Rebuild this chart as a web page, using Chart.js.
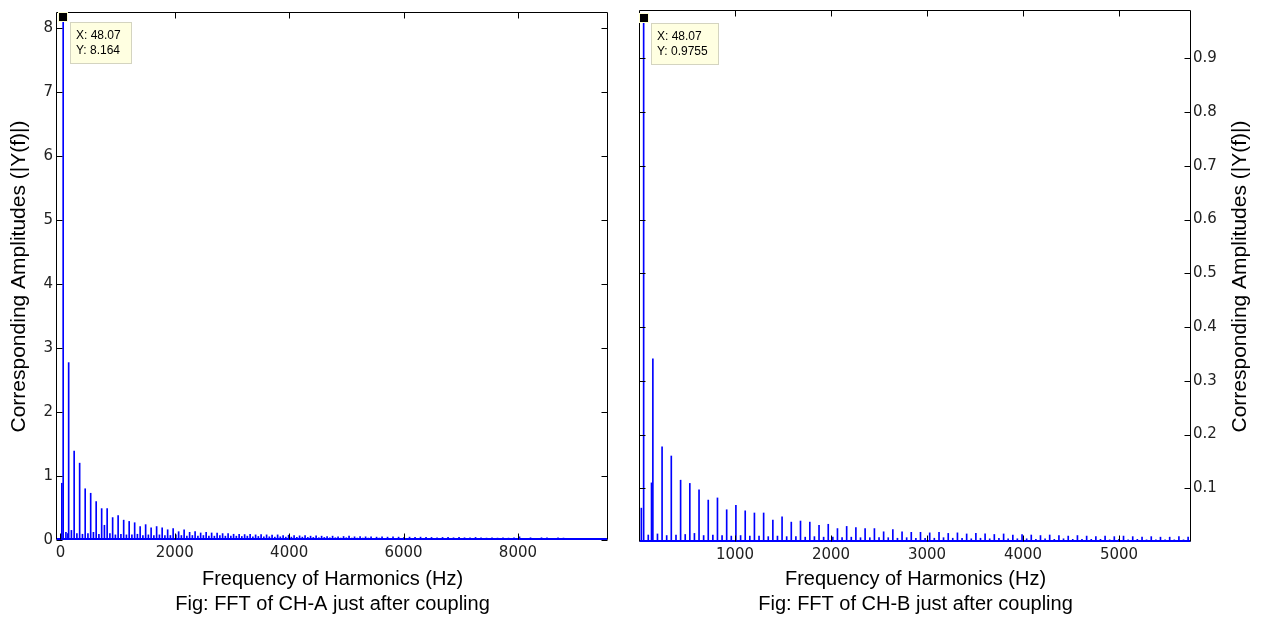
<!DOCTYPE html>
<html lang="en">
<head>
  <meta charset="UTF-8">
  <title>FFT of CH-A / CH-B just after coupling</title>
  <script src="https://cdn.jsdelivr.net/npm/chart.js"></script>
  <style>
    * {
      margin: 0;
      padding: 0;
      box-sizing: border-box;
    }

    body {
      background-color: #fff;
      width: 1261px;
      height: 618px;
      overflow: hidden;
      position: relative;
    }

    .panel {
      position: absolute;
      top: 0;
      height: 618px;
    }

    #panel-a {
      left: 0;
      width: 620px;
    }

    #panel-b {
      left: 620px;
      width: 641px;
    }
  </style>
</head>
<body>
  <div class="panel" id="panel-a"><canvas id="fft-a"></canvas></div>
  <div class="panel" id="panel-b"><canvas id="fft-b"></canvas></div>

  <script>
    // odd harmonics of the 48.07 Hz fundamental (Hz)
    const harmonicHz = [
      48, 144, 240, 336, 433, 529, 625, 721, 817, 913,
      1009, 1106, 1202, 1298, 1394, 1490, 1586, 1682, 1779, 1875,
      1971, 2067, 2163, 2259, 2355, 2452, 2548, 2644, 2740, 2836,
      2932, 3028, 3125, 3221, 3317, 3413, 3509, 3605, 3701, 3798,
      3894, 3990, 4086, 4182, 4278, 4374, 4471, 4567, 4663, 4759,
      4855, 4951, 5047, 5143, 5240, 5336, 5432, 5528, 5624, 5720,
      5816, 5913, 6009, 6105, 6201, 6297, 6393, 6489, 6586, 6682,
      6778, 6874, 6970, 7066, 7162, 7259, 7355, 7451, 7547, 7643,
      7739, 7835, 7932, 8028, 8124, 8220, 8316, 8412, 8508, 8605,
      8701, 8797
    ];

    // CH-A amplitudes at the odd harmonics
    const ampA = [
      8.164, 2.77, 1.39, 1.20, 0.80, 0.73, 0.60, 0.49, 0.49, 0.35,
      0.38, 0.31, 0.29, 0.27, 0.21, 0.24, 0.19, 0.21, 0.19, 0.16,
      0.18, 0.13, 0.16, 0.12, 0.13, 0.11, 0.12, 0.11, 0.11, 0.10,
      0.10, 0.09, 0.09, 0.085, 0.09, 0.08, 0.085, 0.08, 0.075, 0.08,
      0.07, 0.075, 0.07, 0.065, 0.07, 0.06, 0.065, 0.06, 0.055, 0.06,
      0.05, 0.055, 0.06, 0.05, 0.055, 0.05, 0.05, 0.045, 0.05, 0.045,
      0.05, 0.045, 0.04, 0.045, 0.04, 0.045, 0.04, 0.04, 0.035, 0.04,
      0.04, 0.035, 0.04, 0.035, 0.035, 0.04, 0.035, 0.03, 0.035, 0.03,
      0.035, 0.03, 0.035, 0.05, 0, 0.035, 0, 0.035, 0.035, 0,
      0.035, 0.03
    ];

    // CH-B amplitudes at the odd harmonics (up to 5750 Hz)
    const ampB = [
      0.9755, 0.341, 0.177, 0.16, 0.115, 0.109, 0.097, 0.078, 0.082, 0.06,
      0.068, 0.058, 0.054, 0.054, 0.041, 0.047, 0.037, 0.039, 0.037, 0.031,
      0.033, 0.025, 0.029, 0.027, 0.025, 0.025, 0.019, 0.023, 0.019, 0.018,
      0.018, 0.017, 0.018, 0.016, 0.017, 0.015, 0.016, 0.015, 0.014, 0.015,
      0.013, 0.014, 0.013, 0.012, 0.013, 0.012, 0.011, 0.012, 0.011, 0.010,
      0.011, 0.010, 0.011, 0.010, 0.009, 0.010, 0.009, 0.009, 0.010, 0.009
    ];

    // small even-harmonic components
    const evenHz = [
      96, 192, 288, 385, 481, 577, 673, 769, 865, 961,
      1058, 1154, 1250, 1346, 1442, 1538, 1634, 1731, 1827, 1923,
      2019, 2115, 2211, 2307, 2404, 2500, 2596, 2692, 2788, 2884,
      2980, 3076, 3172, 3268, 3365, 3461, 3557, 3653, 3749, 3845,
      3941, 4038, 4134, 4230, 4326, 4422, 4518, 4614, 4711, 4807,
      4903, 4999, 5095, 5191, 5287, 5384, 5480, 5576, 5672
    ];
    const evenAmpA = [
      0.12, 0.15, 0.10, 0.09, 0.10, 0.12, 0.09, 0.23, 0.10, 0.08,
      0.09, 0.08, 0.08, 0.09, 0.07, 0.08, 0.07, 0.08, 0.07, 0.07,
      0.08, 0.07, 0.06, 0.07, 0.06, 0.07, 0.06, 0.06, 0.07, 0.06,
      0.06, 0.06, 0.055, 0.06, 0.05, 0.055, 0.05, 0.05, 0.045, 0.05,
      0.045, 0.045, 0.04, 0.045, 0.04, 0.04, 0.035, 0.04, 0.035, 0.035,
      0.03, 0.035, 0.03, 0.03, 0.03, 0.03, 0.025, 0.03, 0.025
    ];
    const evenAmpB = [
      0.013, 0.015, 0.012, 0.013, 0.014, 0.016, 0.012, 0.013, 0.012, 0.011,
      0.012, 0.011, 0.011, 0.010, 0.011, 0.010, 0.010, 0.009, 0.010, 0.009,
      0.009, 0.008, 0.009, 0.008, 0.008, 0.008, 0.008, 0.007, 0.008, 0.007,
      0.007, 0.007, 0.008, 0.007, 0.007, 0.006, 0.007, 0.006, 0.007, 0.006,
      0.006, 0.006, 0.005, 0.006, 0.005, 0.006, 0.005, 0.005, 0.005, 0.005,
      0.004, 0.005, 0.004, 0.005, 0.004, 0.004, 0.004, 0.004, 0.004
    ];

    // side components next to the fundamental / 3rd harmonic
    const sideHz = [24, 130];
    const sideAmpA = [0.886, 0.10];
    const sideAmpB = [0.063, 0.11];

    // axis ticks
    const xTicksA = [0, 2000, 4000, 6000, 8000];
    const yTicksA = [0, 1, 2, 3, 4, 5, 6, 7, 8];
    const xTicksB = [1000, 2000, 3000, 4000, 5000];
    const yTicksB = [0.1, 0.2, 0.3, 0.4, 0.5, 0.6, 0.7, 0.8, 0.9];

    // data tips [X, Y]
    const tipA = [48.07, 8.164];
    const tipB = [48.07, 0.9755];

    const xTitle = 'Frequency of Harmonics (Hz)';
    const yTitle = 'Corresponding Amplitudes (|Y(f)|)';
    const captionA = 'Fig: FFT of CH-A just after coupling';
    const captionB = 'Fig: FFT of CH-B just after coupling';

    const FONT = '"Liberation Sans", Arial, sans-serif';
    const TICK_FONT = '"DejaVu Sans", Verdana, sans-serif';

    const toPoints = (hz, amp) => amp.map((a, i) => ({ x: hz[i], y: a }));

    const spike = (data) => ({
      data,
      backgroundColor: '#0000ff',
      borderWidth: 0,
      barThickness: 1,
      grouped: false,
    });

    // matlab style box, inward ticks on all four sides, data tip
    const matlabFrame = {
      id: 'matlabFrame',
      afterDatasetsDraw(chart, args, opts) {
        const { ctx, chartArea: a, scales: { x, y } } = chart;
        const L = a.left - 0.5, R = a.right - 0.5, T = a.top - 0.5, B = a.bottom - 0.5;
        ctx.save();

        // noise floor along the baseline
        ctx.strokeStyle = '#0000ff';
        ctx.lineWidth = 2;
        ctx.beginPath();
        ctx.moveTo(L, B - 0.5);
        ctx.lineTo(R, B - 0.5);
        ctx.stroke();

        ctx.strokeStyle = '#000';
        ctx.lineWidth = 1;
        ctx.beginPath();
        x.ticks.forEach(t => {
          const px = Math.round(x.getPixelForValue(t.value)) + 0.5;
          ctx.moveTo(px, B); ctx.lineTo(px, B - 6);
          ctx.moveTo(px, T); ctx.lineTo(px, T + 6);
        });
        y.ticks.forEach(t => {
          const py = Math.round(y.getPixelForValue(t.value)) + 0.5;
          ctx.moveTo(L, py); ctx.lineTo(L + 6, py);
          ctx.moveTo(R, py); ctx.lineTo(R - 6, py);
        });
        ctx.moveTo(L, B); ctx.lineTo(L, T); ctx.lineTo(R, T); ctx.lineTo(R, B);
        ctx.stroke();

        if (opts.tip) {
          const [tx, ty] = opts.tip;
          const mx = Math.round(x.getPixelForValue(tx));
          const my = Math.round(y.getPixelForValue(ty));
          ctx.fillStyle = '#ffffd0';
          ctx.fillRect(mx - 5, my - 5, 10, 10);
          ctx.fillStyle = '#000';
          ctx.fillRect(mx - 4, my - 4, 8, 8);

          const lines = ['X: ' + tx, 'Y: ' + ty];
          ctx.font = '12px ' + FONT;
          const w = Math.ceil(Math.max(...lines.map(s => ctx.measureText(s).width))) + 17;
          const bx = mx + 7, by = my + 5;
          ctx.fillStyle = '#ffffe1';
          ctx.fillRect(bx, by, w, 42);
          ctx.strokeStyle = '#d4d4c0';
          ctx.strokeRect(bx + 0.5, by + 0.5, w - 1, 41);
          ctx.fillStyle = '#000';
          ctx.textBaseline = 'middle';
          ctx.textAlign = 'left';
          lines.forEach((s, i) => ctx.fillText(s, bx + 6, by + 14 + i * 15));
        }

        if (opts.sideTitle) {
          ctx.translate(opts.sideTitleX, (a.top + a.bottom) / 2);
          ctx.rotate(-Math.PI / 2);
          ctx.font = '21px ' + FONT;
          ctx.fillStyle = '#000';
          ctx.textAlign = 'center';
          ctx.textBaseline = 'middle';
          ctx.fillText(opts.sideTitle, 0, 0);
        }
        ctx.restore();
      }
    };

    const tickStyle = {
      color: '#222',
      font: { family: TICK_FONT, size: 15 },
      maxRotation: 0,
      autoSkip: false,
      callback: v => String(v),
    };

    function buildChart(canvasId, cfg) {
      return new Chart(document.getElementById(canvasId), {
        type: 'bar',
        data: { datasets: cfg.datasets },
        plugins: [matlabFrame],
        options: {
          responsive: true,
          maintainAspectRatio: false,
          animation: false,
          devicePixelRatio: 1,
          events: [],
          layout: { autoPadding: false, padding: cfg.padding },
          plugins: {
            legend: { display: false },
            tooltip: { enabled: false },
            matlabFrame: cfg.frame,
          },
          scales: {
            x: {
              type: 'linear',
              min: cfg.xMin,
              max: cfg.xMax,
              offset: false,
              afterBuildTicks: s => { s.ticks = cfg.xTicks.map(v => ({ value: v })); },
              afterFit: s => { s.height = cfg.xHeight; },
              grid: { display: false, drawTicks: false },
              border: { display: false },
              ticks: { ...tickStyle, padding: 4 },
              title: {
                display: true,
                text: [xTitle, cfg.caption],
                color: '#000',
                font: { family: FONT, size: 20, lineHeight: '25px' },
                padding: { top: 0, bottom: 1 },
              },
            },
            y: {
              type: 'linear',
              position: cfg.yPosition,
              min: 0,
              max: cfg.yMax,
              afterBuildTicks: s => { s.ticks = cfg.yTicks.map(v => ({ value: v })); },
              afterFit: s => { s.width = cfg.yWidth; },
              grid: { display: false, drawTicks: false },
              border: { display: false },
              ticks: { ...tickStyle, padding: cfg.yPad },
              title: {
                display: cfg.yPosition === 'left',
                text: yTitle,
                color: '#000',
                font: { family: FONT, size: 21 },
                padding: { top: 7, bottom: 0 },
              },
            },
          },
        },
      });
    }

    buildChart('fft-a', {
      datasets: [
        spike(toPoints(harmonicHz, ampA)),
        spike(toPoints(evenHz, evenAmpA)),
        spike(toPoints(sideHz, sideAmpA)),
      ],
      padding: { top: 9, right: 12, left: 0, bottom: 0 },
      xMin: -60, xMax: 9575, xTicks: xTicksA, xHeight: 78,
      yMax: 8.23, yTicks: yTicksA, yWidth: 57, yPad: 4, yPosition: 'left',
      caption: captionA,
      frame: { tip: tipA },
    });

    buildChart('fft-b', {
      datasets: [
        spike(toPoints(harmonicHz, ampB)),
        spike(toPoints(evenHz, evenAmpB)),
        spike(toPoints(sideHz, sideAmpB)),
      ],
      padding: { top: 11, right: 0, left: 20, bottom: 0 },
      xMin: 10, xMax: 5750, xTicks: xTicksB, xHeight: 76,
      yMax: 0.988, yTicks: yTicksB, yWidth: 70, yPad: 2, yPosition: 'right',
      caption: captionB,
      frame: { tip: tipB, sideTitle: yTitle, sideTitleX: 620 },
    });
  </script>
</body>
</html>
